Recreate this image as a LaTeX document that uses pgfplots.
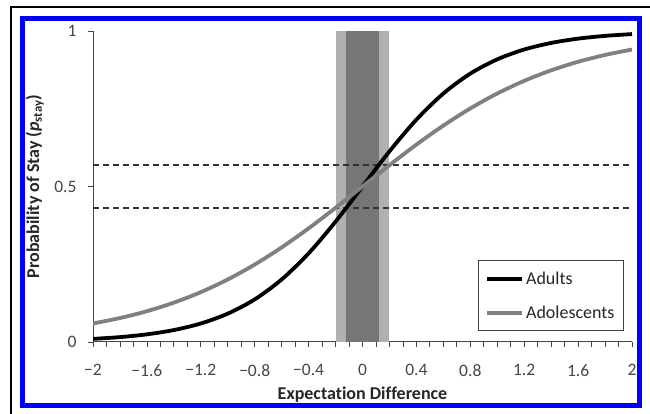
\documentclass[border=0pt]{standalone}
\usepackage{fontspec}
\setmainfont[Ligatures=NoCommon]{Carlito}
\usepackage{pgfplots}
\pgfplotsset{compat=1.18}
\definecolor{frameblue}{RGB}{0,0,255}
\definecolor{adolgray}{RGB}{128,128,128}
\definecolor{lightband}{RGB}{176,176,176}
\definecolor{darkband}{RGB}{118,118,118}
\definecolor{tickgray}{RGB}{70,70,70}
\begin{document}
\begin{tikzpicture}[x=1pt,y=1pt]
\path[use as bounding box] (0,0) rectangle (650,414);
\fill[white] (0,0) rectangle (650,414);
\draw[black, line width=1.5pt] (11,0) -- (11,407) -- (650,407);
\draw[frameblue, line width=5pt] (22.5,8.5) rectangle (639.5,395.5);
\begin{axis}[
  at={(93pt,72pt)}, anchor=south west,
  scale only axis, width=539pt, height=311pt,
  xmin=-2, xmax=2, ymin=0, ymax=1,
  axis lines=left,
  axis line style={-, draw=tickgray, line width=1pt},
  xtick={-2,-1.6,-1.2,-0.8,-0.4,0,0.4,0.8,1.2,1.6,2},
  xticklabels={−2,−1.6,−1.2,−0.8,−0.4,0,0.4,0.8,1.2,1.6,2},
  minor x tick num=3,
  ytick={0,0.5,1},
  yticklabels={0,0.5,1},
  tick align=outside,
  major tick length=5pt, minor tick length=5pt,
  every tick/.style={draw=tickgray, line width=0.8pt},
  tick label style={font=\fontsize{17.5}{20}\selectfont, text=tickgray},
  xticklabel style={yshift=-14pt},
  yticklabel style={xshift=-8pt},
  xlabel={\textbf{Expectation Difference}},
  ylabel={\textbf{Probability of Stay (\textit{p}\textsubscript{stay})}},
  label style={font=\fontsize{18}{21}\selectfont, text=black!85},
  xlabel style={at={(axis description cs:0.5,-0.17)}, anchor=center},
  ylabel style={at={(axis description cs:-0.108,0.5)}, anchor=center},
  legend style={at={(0.985,0.035)}, anchor=south east, draw=black!75, line width=0.8pt,
    font=\fontsize{18}{21}\selectfont, text=black!85, inner xsep=7pt, inner ysep=9pt,
    row sep=16pt},
  legend cell align=left,
  legend image code/.code={\draw[#1] (0pt,0pt) -- (35pt,0pt);},
]
% uncertainty bands
\addplot[fill=lightband, draw=none, forget plot] coordinates {(-0.2,1) (0.2,1)} \closedcycle;
\addplot[fill=darkband, draw=none, forget plot] coordinates {(-0.12,1) (0.12,1)} \closedcycle;
% reference lines
\addplot[black!80, line width=2pt, dash pattern=on 6pt off 4pt, forget plot] coordinates {(-2,0.43) (2,0.43)};
\addplot[black!80, line width=2pt, dash pattern=on 6pt off 4pt, forget plot] coordinates {(-2,0.57) (2,0.57)};
% Adults
\addplot[black, line width=3.8pt, smooth] coordinates {
(-2.0,0.0100) (-1.8,0.0157) (-1.6,0.0246) (-1.4,0.0384) (-1.2,0.0595)
(-1.0,0.0911) (-0.8,0.1370) (-0.6,0.2010) (-0.4,0.2850) (-0.2,0.3870)
(0.0,0.5000) (0.2,0.6130) (0.4,0.7150) (0.6,0.7990) (0.8,0.8630)
(1.0,0.9089) (1.2,0.9405) (1.4,0.9616) (1.6,0.9754) (1.8,0.9843) (2.0,0.9900)};
\addlegendentry{Adults}
% Adolescents
\addplot[adolgray, line width=3.8pt, smooth] coordinates {
(-2.0,0.0595) (-1.8,0.0770) (-1.6,0.0990) (-1.4,0.1265) (-1.2,0.1603)
(-1.0,0.2010) (-0.8,0.2490) (-0.6,0.3041) (-0.4,0.3654) (-0.2,0.4314)
(0.0,0.5000) (0.2,0.5686) (0.4,0.6346) (0.6,0.6959) (0.8,0.7510)
(1.0,0.7990) (1.2,0.8397) (1.4,0.8735) (1.6,0.9010) (1.8,0.9230) (2.0,0.9405)};
\addlegendentry{Adolescents}
\end{axis}
\end{tikzpicture}
\end{document}
